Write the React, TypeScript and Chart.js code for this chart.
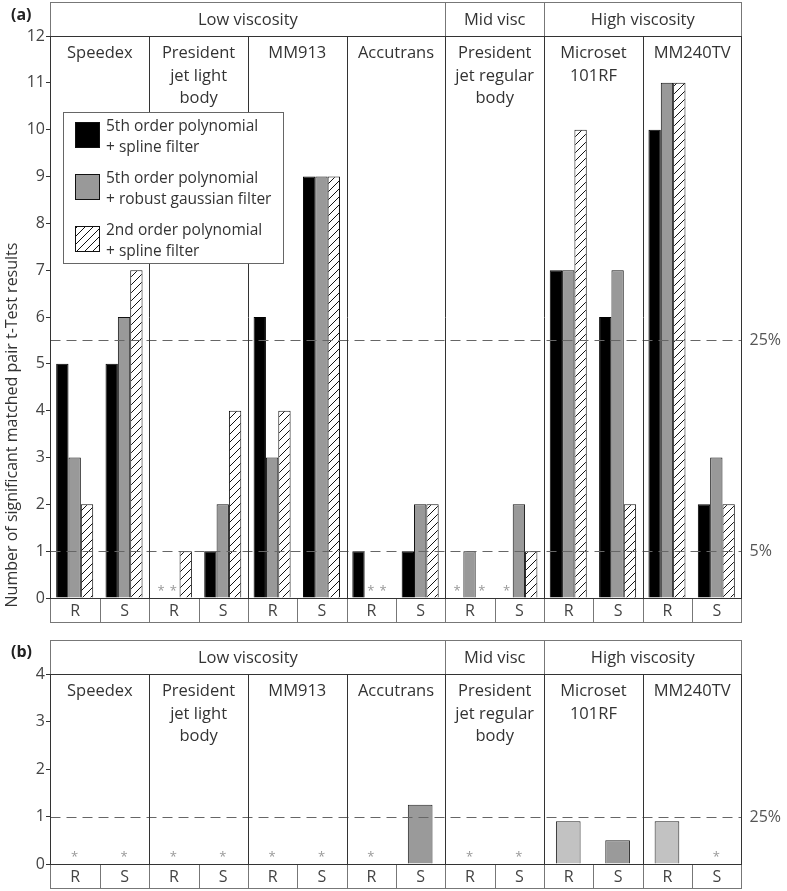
import React, { useEffect, useRef } from "react";
import { Chart, registerables } from "chart.js";
Chart.register(...registerables);

const FONT = "'Open Sans', 'Noto Sans', sans-serif";

// ---- data ----
const rsLabels = ["R", "S", "R", "S", "R", "S", "R", "S", "R", "S", "R", "S", "R", "S"];
const materials = [
  ["Speedex"],
  ["President", "jet light", "body"],
  ["MM913"],
  ["Accutrans"],
  ["President", "jet regular", "body"],
  ["Microset", "101RF"],
  ["MM240TV"],
];
const groupNames = ["Low viscosity", "Mid visc", "High viscosity"];
const groupSpans = [4, 1, 2];
const seriesNames = [
  ["5th order polynomial", "+ spline filter"],
  ["5th order polynomial", "+ robust gaussian filter"],
  ["2nd order polynomial", "+ spline filter"],
];
const poly5Spline = [5, 5, 0, 1, 6, 9, 1, 1, 0, 0, 7, 6, 10, 2];
const poly5Robust = [3, 6, 0, 2, 3, 9, 0, 2, 1, 2, 7, 7, 11, 3];
const poly2Spline = [2, 7, 1, 4, 4, 9, 0, 2, 0, 1, 10, 2, 11, 2];
const thresholdsA = [5.5, 1];
const thresholdLabelsA = ["25%", "5%"];
const panelBValues = [0, 0, 0, 0, 0, 0, 0, 1.25, 0, 0, 0.9, 0.5, 0.9, 0];
const thresholdsB = [1];
const thresholdLabelsB = ["25%"];
const yTitle = "Number of significant matched pair t-Test results";

function makeHatch(): CanvasPattern | string {
  const c = document.createElement("canvas");
  c.width = 8;
  c.height = 8;
  const g = c.getContext("2d");
  if (!g) return "#fff";
  g.fillStyle = "#fff";
  g.fillRect(0, 0, 8, 8);
  g.strokeStyle = "#111";
  g.lineWidth = 1;
  g.beginPath();
  g.moveTo(0, 8);
  g.lineTo(8, 0);
  g.moveTo(-2, 2);
  g.lineTo(2, -2);
  g.moveTo(6, 10);
  g.lineTo(10, 6);
  g.stroke();
  return g.createPattern(c, "repeat") || "#fff";
}

type DecorCfg = {
  panelLabel: string;
  panelLabelY: number;
  thresholds: number[];
  thresholdLabels: string[];
  legend: boolean;
  hatch?: CanvasPattern | string;
  titleY?: number;
};

function decor(cfg: DecorCfg) {
  return {
    id: "decor",
    afterDraw(chart: any) {
      const ctx: CanvasRenderingContext2D = chart.ctx;
      const a = chart.chartArea;
      const L = Math.round(a.left) + 0.5;
      const R = Math.round(a.right) + 0.5;
      const T = Math.round(a.top) + 0.5;
      const B = Math.round(a.bottom) + 0.5;
      const n = rsLabels.length;
      const cw = (R - L) / n;
      const headerTop = T - 34;
      const rowBottom = B + 24;
      const yScale = chart.scales.y;
      ctx.save();

      // dashed threshold lines
      ctx.setLineDash([10, 6]);
      ctx.strokeStyle = "#666";
      ctx.lineWidth = 1;
      cfg.thresholds.forEach((v, i) => {
        const y = Math.round(yScale.getPixelForValue(v)) + 0.5;
        ctx.beginPath();
        ctx.moveTo(L, y);
        ctx.lineTo(R, y);
        ctx.stroke();
        ctx.fillStyle = "#555";
        ctx.font = `16px ${FONT}`;
        ctx.textAlign = "left";
        ctx.textBaseline = "middle";
        ctx.fillText(cfg.thresholdLabels[i], R + 8, y);
      });
      ctx.setLineDash([]);

      // header box
      ctx.strokeStyle = "#777";
      ctx.strokeRect(L, headerTop, R - L, T - headerTop);
      let idx = 0;
      ctx.fillStyle = "#333";
      ctx.font = `16.5px ${FONT}`;
      ctx.textAlign = "center";
      ctx.textBaseline = "middle";
      groupSpans.forEach((s, gi) => {
        const x0 = L + idx * 2 * cw;
        const x1 = L + (idx + s) * 2 * cw;
        if (gi > 0) {
          const xx = Math.round(x0) + 0.5;
          ctx.beginPath();
          ctx.moveTo(xx, headerTop);
          ctx.lineTo(xx, T);
          ctx.stroke();
        }
        ctx.fillText(groupNames[gi], (x0 + x1) / 2, (headerTop + T) / 2 + 1);
        idx += s;
      });

      // R/S row
      ctx.strokeStyle = "#777";
      ctx.strokeRect(L, B, R - L, rowBottom - B);
      for (let i = 1; i < n; i++) {
        const x = Math.round(L + i * cw) + 0.5;
        ctx.beginPath();
        ctx.moveTo(x, B);
        ctx.lineTo(x, rowBottom);
        ctx.stroke();
      }
      ctx.fillStyle = "#444";
      ctx.font = `16px ${FONT}`;
      rsLabels.forEach((lab, i) => {
        ctx.fillText(lab, L + (i + 0.5) * cw, (B + rowBottom) / 2 + 1);
      });

      // frame + material dividers
      ctx.strokeStyle = "#333";
      ctx.strokeRect(L, T, R - L, B - T);
      for (let m = 1; m < materials.length; m++) {
        const x = Math.round(L + m * 2 * cw) + 0.5;
        ctx.beginPath();
        ctx.moveTo(x, T);
        ctx.lineTo(x, B);
        ctx.stroke();
      }

      // material labels
      ctx.fillStyle = "#333";
      ctx.font = `16.5px ${FONT}`;
      materials.forEach((lines, m) => {
        const cx = L + (2 * m + 1) * cw;
        lines.forEach((t, k) => {
          ctx.fillText(t, cx, T + 17 + k * 22.5);
        });
      });

      // asterisks for zero results
      ctx.fillStyle = "#999";
      ctx.font = `13px ${FONT}`;
      chart.data.datasets.forEach((ds: any, di: number) => {
        const meta = chart.getDatasetMeta(di);
        ds.data.forEach((v: number, i: number) => {
          if (v === 0) {
            const el = meta.data[i];
            ctx.fillText("*", el.x, B - 7);
          }
        });
      });

      // panel label
      ctx.fillStyle = "#222";
      ctx.font = `bold 16px ${FONT}`;
      ctx.textAlign = "left";
      ctx.fillText(cfg.panelLabel, 11, cfg.panelLabelY);

      // y title
      if (cfg.titleY !== undefined) {
        ctx.save();
        ctx.translate(12, cfg.titleY);
        ctx.rotate(-Math.PI / 2);
        ctx.textAlign = "center";
        ctx.fillStyle = "#333";
        ctx.font = `16px ${FONT}`;
        ctx.fillText(yTitle, 0, 0);
        ctx.restore();
      }

      // legend
      if (cfg.legend) {
        const lx = 63.5, ly = 112.5, lw = 220, lh = 151;
        ctx.fillStyle = "#fff";
        ctx.fillRect(lx, ly, lw, lh);
        ctx.strokeStyle = "#666";
        ctx.strokeRect(lx, ly, lw, lh);
        const fills: any[] = ["#000", "#999", cfg.hatch || "#fff"];
        seriesNames.forEach((lines, k) => {
          const sy = 122.5 + k * 52;
          ctx.fillStyle = fills[k];
          ctx.fillRect(75.5, sy, 24, 25);
          ctx.strokeStyle = "#111";
          ctx.strokeRect(75.5, sy, 24, 25);
          ctx.fillStyle = "#333";
          ctx.font = `15.5px ${FONT}`;
          ctx.textAlign = "left";
          ctx.textBaseline = "middle";
          lines.forEach((t, j) => {
            ctx.fillText(t, 106, sy + 4 + j * 21.5);
          });
        });
      }
      ctx.restore();
    },
  };
}

function yScale(max: number) {
  return {
    min: 0,
    max,
    afterFit: (s: any) => {
      s.width = 50;
    },
    ticks: { stepSize: 1, font: { family: FONT, size: 16 }, color: "#444", padding: 1 },
    grid: { drawOnChartArea: false, tickLength: 4, color: "#333" },
    border: { color: "#222", width: 1 },
  };
}

export default function App() {
  const refA = useRef<HTMLCanvasElement>(null);
  const refB = useRef<HTMLCanvasElement>(null);

  useEffect(() => {
    const hatch = makeHatch();
    const chartA = new Chart(refA.current as HTMLCanvasElement, {
      type: "bar",
      data: {
        labels: rsLabels,
        datasets: [
          { label: seriesNames[0].join(" "), data: poly5Spline, backgroundColor: "#000", borderColor: "#000", borderWidth: 1 },
          { label: seriesNames[1].join(" "), data: poly5Robust, backgroundColor: "#999", borderColor: "#111", borderWidth: 1 },
          { label: seriesNames[2].join(" "), data: poly2Spline, backgroundColor: hatch as any, borderColor: "#111", borderWidth: 1 },
        ],
      },
      options: {
        animation: false,
        responsive: false,
        layout: { padding: { left: 0, right: 46, top: 36, bottom: 32 } },
        plugins: { legend: { display: false }, tooltip: { enabled: false } },
        datasets: { bar: { categoryPercentage: 0.75, barPercentage: 1 } },
        scales: { x: { display: false }, y: yScale(12) as any },
      },
      plugins: [
        decor({
          panelLabel: "(a)",
          panelLabelY: 15,
          thresholds: thresholdsA,
          thresholdLabels: thresholdLabelsA,
          legend: true,
          hatch,
          titleY: 425,
        }),
      ],
    });
    const chartB = new Chart(refB.current as HTMLCanvasElement, {
      type: "bar",
      data: {
        labels: rsLabels,
        datasets: [
          {
            label: "b",
            data: panelBValues,
            backgroundColor: panelBValues.map((_, i) => (i % 2 === 0 ? "#c2c2c2" : "#9a9a9a")),
            borderColor: "#222",
            borderWidth: 1,
          },
        ],
      },
      options: {
        animation: false,
        responsive: false,
        layout: { padding: { left: 0, right: 46, top: 44, bottom: 27 } },
        plugins: { legend: { display: false }, tooltip: { enabled: false } },
        datasets: { bar: { categoryPercentage: 1, barPercentage: 0.5 } },
        scales: { x: { display: false }, y: yScale(4) as any },
      },
      plugins: [
        decor({
          panelLabel: "(b)",
          panelLabelY: 22,
          thresholds: thresholdsB,
          thresholdLabels: thresholdLabelsB,
          legend: false,
        }),
      ],
    });
    return () => {
      chartA.destroy();
      chartB.destroy();
    };
  }, []);

  return (
    <div style={{ position: "absolute", left: 0, top: 0, width: 787, height: 891, background: "#fff" }}>
      <canvas ref={refA} width={787} height={630} style={{ position: "absolute", left: 0, top: 0, width: 787, height: 630 }} />
      <canvas ref={refB} width={787} height={261} style={{ position: "absolute", left: 0, top: 630, width: 787, height: 261 }} />
    </div>
  );
}
